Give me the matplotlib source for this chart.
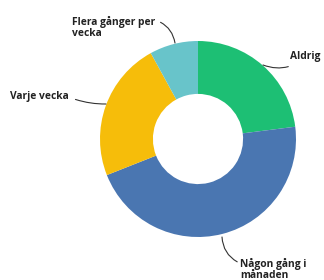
import matplotlib
matplotlib.use("Agg")
from matplotlib import pyplot as plt

# andel svar (procent), medurs från toppen
labels = ["Aldrig", "Någon gång i\nmånaden", "Varje vecka", "Flera gånger per\nvecka"]
values = [23, 46, 23, 8]
colors = ["#1dbf74", "#4a76b1", "#f6bd0a", "#68c4ca"]

fig = plt.figure(figsize=(3.24, 2.80), dpi=100)
ax = fig.add_axes([0, 0, 1, 1])

cx, cy, r = 198, 141, 98
wedges, _ = ax.pie(values, colors=colors, startangle=90, counterclock=False,
                   center=(cx, cy), radius=r, frame=True,
                   wedgeprops=dict(width=r * 0.54, edgecolor="none"))
ax.set_xlim(0, 324)
ax.set_ylim(0, 280)
ax.set_aspect("equal")
ax.axis("off")

txt = dict(fontsize=7.4, fontweight="bold", color="#222222", family="Open Sans")
line = dict(arrowstyle="-", color="#333333", lw=0.8)

ax.annotate(labels[0], xy=(263, 215), xytext=(290, 223), ha="left", va="center",
            arrowprops=dict(**line, connectionstyle="arc3,rad=-0.3", shrinkB=0, shrinkA=3), **txt)
ax.annotate(labels[1], xy=(222, 43), xytext=(240, 11), ha="left", va="center", linespacing=1.0,
            arrowprops=dict(**line, connectionstyle="arc3,rad=-0.3", shrinkB=0, shrinkA=0,
                            relpos=(0, 0.75)), **txt)
ax.annotate(labels[2], xy=(106, 176), xytext=(10, 183), ha="left", va="center",
            arrowprops=dict(**line, connectionstyle="arc3,rad=0.1", shrinkB=0, shrinkA=3, relpos=(1, 0.5)), **txt)
ax.annotate(labels[3], xy=(175, 237), xytext=(72, 253), ha="left", va="center", linespacing=1.0,
            arrowprops=dict(**line, connectionstyle="arc3,rad=-0.3", shrinkB=0, shrinkA=2,
                            relpos=(1, 0.8)), **txt)

fig.savefig("out.png", dpi=100, facecolor="white")
